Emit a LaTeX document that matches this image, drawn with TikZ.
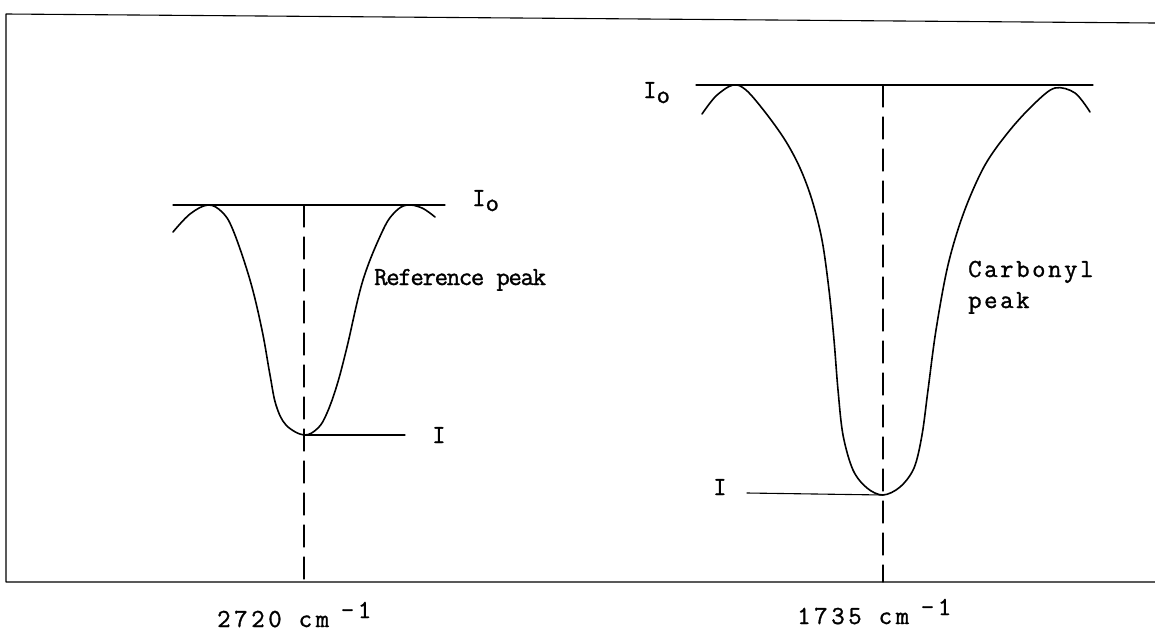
\documentclass[tikz,border=0pt]{standalone}
\usepackage{fontspec}
\newfontfamily\twA{Latin Modern Mono}[FakeBold=1.2]
\newfontfamily\twR{Latin Modern Mono}[LetterSpace=-5,FakeBold=1.2]
\newfontfamily\twB{Latin Modern Mono}[LetterSpace=10,FakeBold=1.2]
\newfontfamily\twC{Latin Modern Mono}[LetterSpace=14,FakeBold=1.2]
\begin{document}
\begin{tikzpicture}[x=1pt,y=-1pt,line cap=round,line join=round,
  lbl/.style={font=\twA\fontsize{26}{30}\selectfont, inner sep=0pt},
  lblr/.style={font=\twR\fontsize{26}{30}\selectfont, inner sep=0pt},
  lblw/.style={font=\twB\fontsize{26}{30}\selectfont, inner sep=0pt},
  lblx/.style={font=\twC\fontsize{26}{30}\selectfont, inner sep=0pt},
  guide/.style={line width=1.1pt},
  dashguide/.style={line width=1.1pt, dash pattern=on 22pt off 10pt},
  curve/.style={line width=1.6pt}]
\useasboundingbox (0,0) rectangle (1155,632);
% frame
\coordinate (tr) at (1155,23);
\coordinate (tl) at (6,14);
\coordinate (bl) at (6,582);
\coordinate (br) at (1155,582);
\draw[guide] (tr) -- (tl) -- (bl) -- (br);
% ---------- reference peak ----------
\coordinate (Lmin) at (304,435);
\coordinate (Ltop) at (304,205);
\coordinate (Lbot) at (304,582);
\coordinate (LbaseA) at (173,205);
\coordinate (LbaseB) at (445,205);
\coordinate (LIend) at (405,435);
\draw[curve] plot[smooth, tension=0.6] coordinates {(173,232) (190,214) (208,205) (222,212) (233,230) (250,280) (262,330) (270,375) (276,405) (286,425) (304,435) (318,428) (327,413) (337,385) (347,347) (363,280) (383,230) (395,212) (407,205) (422,208) (435,217)};
\draw[guide] (LbaseA) -- (LbaseB);
\draw[dashguide] (Ltop) -- (Lbot);
\draw[guide] (Lmin) -- (LIend);
\node[lbl, anchor=base west] (lI) at (432,443) {I};
\node[lbl, anchor=base west] (lIo) at (472,206) {I\raisebox{-0.45ex}{o}};
\node[lblr, anchor=base west] (ref) at (374,285) {Reference peak};
\node[lblx, anchor=base west] (lx) at (217,627) {2720 cm\hspace{0.45em}\raisebox{0.8ex}{-1}};
% ---------- carbonyl peak ----------
\coordinate (Rmin) at (883,495);
\coordinate (Rtop) at (883,85);
\coordinate (Rbot) at (883,582);
\coordinate (RbaseA) at (696,85);
\coordinate (RbaseB) at (1093,85);
\coordinate (RIend) at (747,493);
\draw[curve] plot[smooth, tension=0.55] coordinates {(702,114) (716,96) (733,85) (746,90) (765,112) (785,140) (800,168) (812,200) (822,240) (829,290) (834,340) (838,390) (843,435) (853,470) (867,488) (883,495) (900,487) (914,468) (922,435) (928,390) (936,330) (948,265) (964,212) (985,165) (1010,130) (1035,103) (1055,88) (1075,93) (1090,112)};
\draw[guide] (RbaseA) -- (RbaseB);
\draw[dashguide] (Rtop) -- (Rbot);
\draw[guide] (RIend) -- (Rmin);
\node[lbl, anchor=base west] (rI) at (713,495) {I};
\node[lbl, anchor=base west] (rIo) at (643,98) {I\raisebox{-0.45ex}{o}};
\node[lblw, anchor=base west] (carb) at (968,277) {Carbonyl};
\node[lblw, anchor=base west] (carb2) at (968,308) {peak};
\node[lblx, anchor=base west] (rx) at (797,624) {1735 cm\hspace{0.45em}\raisebox{0.8ex}{-1}};
\end{tikzpicture}
\end{document}
